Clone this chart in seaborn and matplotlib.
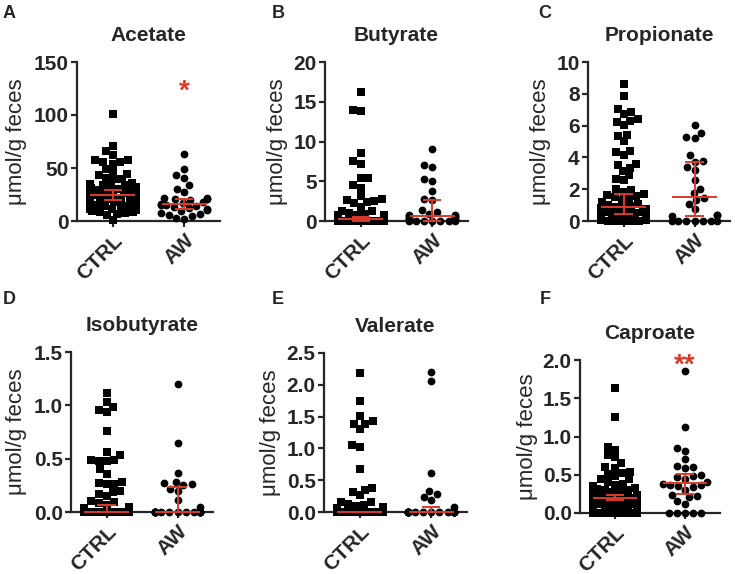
import warnings
import matplotlib
matplotlib.use("Agg")
import matplotlib.pyplot as plt
import pandas as pd
import seaborn as sns

warnings.filterwarnings("ignore")

groups = ["CTRL", "AW"]
titles = ["Acetate", "Butyrate", "Propionate", "Isobutyrate", "Valerate", "Caproate"]
letters = ["A", "B", "C", "D", "E", "F"]

# values (umol/g feces)
acetate_ctrl = [100.6, 70.8, 65.7, 62.6, 57.2, 55.7, 53.8, 55.7, 57.2, 49.4, 44.7, 43.7, 46.2,
                40.9, 39.3, 40.0, 8.5, 6.9, 8.5, 9.4, 6.0, 7.5, 1.3,
                36.2, 35.1, 34.3, 33.6, 33.0, 32.2, 31.5, 31.1, 30.4, 29.8, 29.5, 28.9, 28.4,
                28.0, 27.6, 27.1, 26.5, 26.2, 25.6, 25.1, 24.6, 24.1, 23.5, 23.2, 22.6, 22.1,
                21.4, 21.0, 20.6, 20.1, 19.4, 19.0, 18.6, 18.1, 17.4, 16.8, 16.0, 15.3, 14.6,
                14.0, 13.2, 12.6, 12.0, 11.1, 10.6, 11.6, 13.7]
acetate_aw = [62.9, 49.0, 43.0, 40.9, 33.6, 30.5, 27.4, 22.0, 21.5, 21.0, 20.5, 20.0, 18.0,
              17.0, 16.0, 15.5, 15.0, 14.0, 13.0, 12.0, 11.0, 10.5, 9.0, 8.0, 7.0, 6.0, 4.5,
              3.0, 2.2]

butyrate_ctrl = [16.2, 13.95, 13.8, 8.6, 7.5, 7.2, 5.4, 5.4, 4.5, 4.2, 3.2, 2.7, 2.8, 2.4,
                 2.5, 2.3, 1.8, 1.3, 1.2, 1.0, 0.9, 0.8, 0.75, 0.7, 0.6, 0.55, 0.5, 0.45,
                 0.4, 0.35, 0.3, 0.3, 0.25, 0.25, 0.22, 0.2, 0.18, 0.16, 0.15, 0.14, 0.12,
                 0.1, 0.1, 0.08, 0.07, 0.06, 0.05, 0.05, 0.04, 0.03, 0.02, 0.02, 0.01] + [0.0] * 17
butyrate_aw = [9.0, 7.0, 6.8, 5.25, 5.0, 3.8, 2.8, 2.7, 1.35, 1.1, 0.9, 0.8, 0.7, 0.65, 0.6,
               0.5, 0.4, 0.3, 0.2, 0.15, 0.1, 0.05] + [0.0] * 6

propionate_ctrl = [8.6, 7.88, 6.83, 6.72, 7.04, 6.28, 6.03, 6.24, 6.39, 5.36, 5.44, 5.02, 4.39,
                   4.14, 4.31, 3.51, 3.34, 3.61, 2.88, 3.13, 2.56, 2.67, 1.83, 2.0, 1.97, 1.72,
                   1.65, 1.6, 1.5, 1.4, 1.3, 1.2, 1.1, 1.0, 0.95, 0.88, 0.85, 0.8, 0.78, 0.75,
                   0.7, 0.68, 0.65, 0.6, 0.58, 0.55, 0.5, 0.48, 0.45, 0.4, 0.38, 0.35, 0.3,
                   0.28, 0.25, 0.22, 0.2, 0.18, 0.15, 0.12, 0.1, 0.08, 0.06, 0.05, 0.04, 0.03,
                   0.02, 0.01, 0.0, 0.0]
propionate_aw = [6.05, 5.53, 5.28, 5.2, 4.13, 3.75, 3.71, 3.4, 3.19, 2.56, 2.03, 1.76, 1.45,
                 1.3, 1.09, 0.73, 0.4, 0.35, 0.31] + [0.0] * 7

isobutyrate_ctrl = [1.12, 1.03, 0.98, 0.94, 0.96, 0.76, 0.56, 0.53, 0.49, 0.48, 0.48, 0.49, 0.40,
                    0.36, 0.27, 0.26, 0.26, 0.28, 0.15, 0.19, 0.2, 0.17, 0.1, 0.09, 0.08, 0.07,
                    0.05, 0.04] + [0.0] * 42
isobutyrate_aw = [1.2, 0.65, 0.37, 0.27, 0.25, 0.2, 0.22, 0.26, 0.28, 0.11, 0.05] + [0.0] * 17

valerate_ctrl = [2.18, 1.75, 1.51, 1.43, 1.38, 1.31, 1.39, 1.02, 1.06, 0.68, 0.38, 0.32, 0.26,
                 0.35, 0.16, 0.15, 0.12, 0.11, 0.1, 0.08, 0.06, 0.05, 0.04, 0.03, 0.02] + [0.0] * 45
valerate_aw = [2.2, 2.06, 0.61, 0.33, 0.28, 0.24, 0.19, 0.08] + [0.0] * 20

caproate_ctrl = [1.64, 1.26, 0.86, 0.83, 0.76, 0.73, 0.6, 0.65, 0.59, 0.54, 0.52, 0.48, 0.44,
                 0.45, 0.51, 0.4, 0.38, 0.36, 0.35, 0.33, 0.32, 0.3, 0.3, 0.28, 0.27, 0.26,
                 0.25, 0.24, 0.23, 0.22, 0.21, 0.21, 0.2, 0.2, 0.205, 0.19, 0.19, 0.18, 0.18,
                 0.17, 0.17, 0.16, 0.16, 0.15, 0.15, 0.14, 0.13, 0.12, 0.12, 0.11, 0.1, 0.1,
                 0.09, 0.08, 0.07, 0.06, 0.05] + [0.0] * 13
caproate_aw = [1.86, 1.13, 0.85, 0.81, 0.7, 0.62, 0.59, 0.6, 0.5, 0.47, 0.48, 0.44, 0.4, 0.38,
               0.36, 0.34, 0.35, 0.36, 0.3, 0.24, 0.21, 0.22, 0.16, 0.12] + [0.0] * 5

# median and interval ends shown in red (CTRL, AW)
medians = [[25, 16], [0.2, 0.63], [0.9, 1.5], [0, 0], [0, 0], [0.2, 0.39]]
lows = [[19.5, 11], [0.05, 0], [0.46, 0.31], [0, 0], [0, 0], [0.17, 0.25]]
highs = [[29.5, 21], [0.45, 2.7], [1.7, 3.7], [0.065, 0.23], [0, 0.08], [0.23, 0.51]]

yticks = [[0, 50, 100, 150], [0, 5, 10, 15, 20], [0, 2, 4, 6, 8, 10],
          [0, 0.5, 1.0, 1.5], [0, 0.5, 1.0, 1.5, 2.0, 2.5], [0, 0.5, 1.0, 1.5, 2.0]]

ctrl_data = [acetate_ctrl, butyrate_ctrl, propionate_ctrl, isobutyrate_ctrl, valerate_ctrl, caproate_ctrl]
aw_data = [acetate_aw, butyrate_aw, propionate_aw, isobutyrate_aw, valerate_aw, caproate_aw]

sns.set_style("ticks")
plt.rcParams["font.family"] = ["Liberation Sans", "DejaVu Sans"]

RED = "#d93a2b"
W, H = 735, 574
fig = plt.figure(figsize=(W / 100, H / 100), dpi=100)

# group centres on a numeric axis so the swarm (0.8 units wide) stays narrow
SEP = 1.25
pos = [0, SEP]
markers = ["s", "o"]
msize = [5.3, 5.6]

# axes boxes in pixels: left, top, right, bottom
boxes = [(77, 62, 220, 221), (325, 62, 468, 221), (588, 62, 730, 221),
         (71, 352, 213, 512), (324, 353, 467, 512), (580, 360, 720, 513)]
ylabel_right = [27, 288, 551, 27, 281, 538]
letter_pos = [(3, 13), (272, 13), (538, 13), (3, 300), (272, 300), (540, 300)]

for i in range(6):
    l, t, r, b = boxes[i]
    ax = fig.add_axes([l / W, 1 - b / H, (r - l) / W, (b - t) / H])

    for j, vals in enumerate([ctrl_data[i], aw_data[i]]):
        df = pd.DataFrame({"pos": [pos[j]] * len(vals), "value": vals})
        sns.swarmplot(data=df, x="pos", y="value", native_scale=True, orient="x",
                      marker=markers[j], color="black", size=msize[j], ax=ax)
    for coll in ax.collections:
        coll.set_clip_on(False)

    for j in range(2):
        x0 = pos[j]
        ax.hlines(medians[i][j], x0 - 0.39, x0 + 0.39, color=RED, lw=1.4, zorder=5, clip_on=False)
        ax.vlines(x0, lows[i][j], highs[i][j], color=RED, lw=1.4, zorder=5, clip_on=False)
        ax.hlines([lows[i][j], highs[i][j]], x0 - 0.16, x0 + 0.16, color=RED, lw=1.4,
                  zorder=5, clip_on=False)

    ax.set_xlim(-SEP / 2, SEP * 1.5)
    ax.set_ylim(0, yticks[i][-1])
    ax.set_yticks(yticks[i])
    fmt = "%.1f" if i >= 3 else "%g"
    ax.set_yticklabels([fmt % v for v in yticks[i]], fontsize=15, fontweight="bold")
    ax.set_xticks(pos)
    ax.set_xticklabels(groups, rotation=45, ha="right", rotation_mode="anchor",
                       fontsize=15, fontweight="bold")
    ax.tick_params(axis="y", length=4, width=1.6, pad=2)
    ax.tick_params(axis="x", length=4, width=1.6, pad=3)
    for s in ["top", "right"]:
        ax.spines[s].set_visible(False)
    for s in ["left", "bottom"]:
        ax.spines[s].set_linewidth(1.6)

    ax.set_xlabel("")
    ax.set_ylabel("μmol/g feces", fontsize=16)
    ax.yaxis.set_label_coords((ylabel_right[i] - l) / (r - l), 0.5)
    ax.set_title(titles[i], fontsize=15, fontweight="bold", pad=15)

    lx, ly = letter_pos[i]
    fig.text(lx / W, 1 - ly / H, letters[i], fontsize=13, fontweight="bold", va="center")

# significance marks
fig.axes[0].text(SEP, 115, "*", color=RED, fontsize=20, fontweight="bold",
                 ha="center", va="baseline", clip_on=False)
fig.axes[5].text(SEP, 1.84, "**", color=RED, fontsize=20, fontweight="bold",
                 ha="center", va="baseline", clip_on=False)

fig.savefig("out.png", dpi=100)
